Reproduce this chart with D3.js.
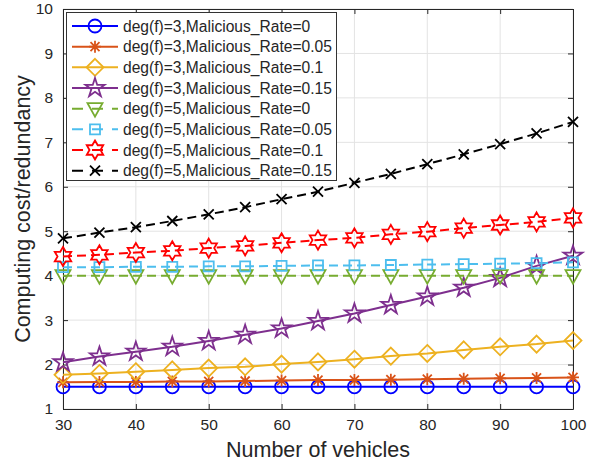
<!DOCTYPE html>
<html><head><meta charset="utf-8">
<script src="https://cdn.jsdelivr.net/npm/d3@7"></script>
<style>body{margin:0;background:#fff}svg{display:block}text{font-family:"Liberation Sans",Arial,sans-serif;fill:#262626}</style>
</head><body><svg id="c" width="590" height="462"></svg>
<script>
const vehicles = [30,35,40,45,50,55,60,65,70,75,80,85,90,95,100];
const xTicks = [30,40,50,60,70,80,90,100];
const yTicks = [1,2,3,4,5,6,7,8,9,10];
const seriesNames = [
  "deg(f)=3,Malicious_Rate=0","deg(f)=3,Malicious_Rate=0.05","deg(f)=3,Malicious_Rate=0.1","deg(f)=3,Malicious_Rate=0.15",
  "deg(f)=5,Malicious_Rate=0","deg(f)=5,Malicious_Rate=0.05","deg(f)=5,Malicious_Rate=0.1","deg(f)=5,Malicious_Rate=0.15"];
const d3mr0   = [1.5,1.5,1.5,1.5,1.5,1.5,1.5,1.5,1.5,1.5,1.5,1.5,1.5,1.5,1.5];
const d3mr005 = [1.60,1.61,1.61,1.62,1.62,1.63,1.64,1.65,1.65,1.66,1.67,1.68,1.69,1.70,1.71];
const d3mr01  = [1.77,1.80,1.84,1.88,1.92,1.95,2.01,2.06,2.12,2.19,2.25,2.33,2.40,2.46,2.54];
const d3mr015 = [2.05,2.18,2.29,2.40,2.53,2.67,2.81,2.98,3.15,3.34,3.53,3.73,3.95,4.22,4.45];
const d5mr0   = [4.0,4.0,4.0,4.0,4.0,4.0,4.0,4.0,4.0,4.0,4.0,4.0,4.0,4.0,4.0];
const d5mr005 = [4.19,4.19,4.20,4.20,4.21,4.21,4.22,4.23,4.23,4.24,4.25,4.26,4.27,4.28,4.30];
const d5mr01  = [4.43,4.47,4.52,4.56,4.62,4.67,4.74,4.80,4.85,4.93,4.99,5.07,5.14,5.21,5.30];
const d5mr015 = [4.84,4.97,5.09,5.23,5.38,5.54,5.72,5.89,6.09,6.29,6.51,6.73,6.96,7.20,7.46];
const allSeries = [d3mr0,d3mr005,d3mr01,d3mr015,d5mr0,d5mr005,d5mr01,d5mr015];
const colors = ["#0000FF","#D95319","#EDB120","#7E2F8E","#77AC30","#4DBEEE","#FF0000","#000000"];
const markers = ["circle","asterisk","diamond","pentagram","triangledown","square","hexagram","x"];
const dashed = [false,false,false,false,true,true,true,true];

const L=63,R=573,T=9,B=409;
const svg = d3.select("#c");
const x = d3.scaleLinear().domain([30,100]).range([L,R]);
const y = d3.scaleLinear().domain([1,10]).range([B,T]);
const ax = "#262626";

// grid
const g = svg.append("g");
xTicks.forEach(t=>g.append("line").attr("x1",x(t)).attr("x2",x(t)).attr("y1",T).attr("y2",B).attr("stroke","#e3e3e3").attr("stroke-width",1));
yTicks.forEach(t=>g.append("line").attr("x1",L).attr("x2",R).attr("y1",y(t)).attr("y2",y(t)).attr("stroke","#e3e3e3").attr("stroke-width",1));

// axes
const xa = svg.append("g").attr("transform",`translate(0,${B})`).call(d3.axisBottom(x).tickValues(xTicks).tickSizeInner(-5).tickSizeOuter(0).tickPadding(10));
const xt = svg.append("g").attr("transform",`translate(0,${T})`).call(d3.axisTop(x).tickValues(xTicks).tickSizeInner(-5).tickSizeOuter(0).tickFormat(""));
const ya = svg.append("g").attr("transform",`translate(${L},0)`).call(d3.axisLeft(y).tickValues(yTicks).tickSizeInner(-5).tickSizeOuter(0).tickPadding(10));
const yr = svg.append("g").attr("transform",`translate(${R},0)`).call(d3.axisRight(y).tickValues(yTicks).tickSizeInner(-5).tickSizeOuter(0).tickFormat(""));
[xa,xt,ya,yr].forEach(a=>{a.selectAll("path,line").attr("stroke",ax).attr("stroke-width",1);a.selectAll("text").attr("font-size",15.5).attr("fill",ax).style("font-family","Liberation Sans, Arial, sans-serif");});

function markerPath(type){
  const p = d3.path();
  if(type==="circle"){p.arc(0,0,6.5,0,2*Math.PI);}
  else if(type==="diamond"){p.moveTo(0,-8.5);p.lineTo(8.5,0);p.lineTo(0,8.5);p.lineTo(-8.5,0);p.closePath();}
  else if(type==="square"){p.rect(-5,-5,10,10);}
  else if(type==="triangledown"){p.moveTo(-7.5,-5.5);p.lineTo(7.5,-5.5);p.lineTo(0,8);p.closePath();}
  else if(type==="x"){const s=5;p.moveTo(-s,-s);p.lineTo(s,s);p.moveTo(-s,s);p.lineTo(s,-s);}
  else if(type==="asterisk"){const s=6,d=4.5;p.moveTo(0,-s);p.lineTo(0,s);p.moveTo(-s,0);p.lineTo(s,0);p.moveTo(-d,-d);p.lineTo(d,d);p.moveTo(-d,d);p.lineTo(d,-d);}
  else if(type==="pentagram"){const ro=10,ri=ro*0.382;for(let i=0;i<10;i++){const r=i%2?ri:ro;const a=-Math.PI/2+i*Math.PI/5;const px=r*Math.cos(a),py=r*Math.sin(a);i?p.lineTo(px,py):p.moveTo(px,py);}p.closePath();}
  else if(type==="hexagram"){const ro=9.5,ri=ro/Math.sqrt(3);for(let i=0;i<12;i++){const r=i%2?ri:ro;const a=-Math.PI/2+i*Math.PI/6;const px=r*Math.cos(a),py=r*Math.sin(a);i?p.lineTo(px,py):p.moveTo(px,py);}p.closePath();}
  return p.toString();
}

const line = d3.line().x((d,i)=>x(vehicles[i])).y(d=>y(d));
const plot = svg.append("g");
allSeries.forEach((s,k)=>{
  plot.append("path").attr("d",line(s)).attr("fill","none").attr("stroke",colors[k]).attr("stroke-width",2)
    .attr("stroke-dasharray",dashed[k]?"9,5":null);
  plot.selectAll(null).data(s).enter().append("path")
    .attr("transform",(d,i)=>`translate(${x(vehicles[i])},${y(d)})`)
    .attr("d",markerPath(markers[k])).attr("fill","none").attr("stroke",colors[k]).attr("stroke-width",1.8);
});

// labels
svg.append("text").attr("x",(L+R)/2).attr("y",457).attr("text-anchor","middle").attr("font-size",21.5).text("Number of vehicles");
svg.append("text").attr("transform",`translate(30,${(T+B)/2}) rotate(-90)`).attr("text-anchor","middle").attr("font-size",21.5).text("Computing cost/redundancy");

// legend
const lg = svg.append("g");
lg.append("rect").attr("x",66.5).attr("y",12.5).attr("width",270).attr("height",168).attr("fill","#fff").attr("stroke","#333").attr("stroke-width",1);
seriesNames.forEach((n,k)=>{
  const cy = 26 + k*20.67;
  lg.append("line").attr("x1",72).attr("x2",118).attr("y1",cy).attr("y2",cy).attr("stroke",colors[k]).attr("stroke-width",2)
    .attr("stroke-dasharray",dashed[k]?"11,9":null);
  lg.append("path").attr("transform",`translate(95,${cy})`).attr("d",markerPath(markers[k])).attr("fill","none").attr("stroke",colors[k]).attr("stroke-width",1.8);
  lg.append("text").attr("x",123).attr("y",cy).attr("dy","0.36em").attr("font-size",15.6).attr("fill","#000").text(n);
});
</script></body></html>
